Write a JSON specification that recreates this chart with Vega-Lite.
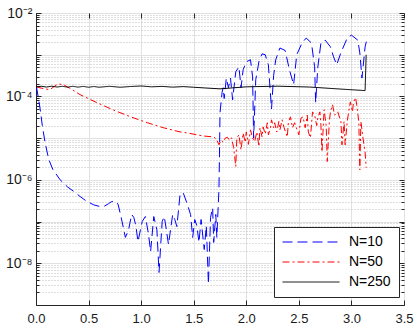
{
  "$schema": "https://vega.github.io/schema/vega-lite/v6.json",
  "width": 368,
  "height": 292,
  "autosize": {"type": "none"},
  "padding": {"left": 36, "top": 13, "right": 11, "bottom": 28},
  "config": {"view": {"stroke": "#262626", "strokeWidth": 1}, "font": "Liberation Sans"},
  "data": {"values": [
    {"s":"N=10","x":0.005,"y":1.7e-4},{"s":"N=10","x":0.02,"y":1.0e-4},{"s":"N=10","x":0.04,"y":4.9e-5},{"s":"N=10","x":0.06,"y":2.0e-5},{"s":"N=10","x":0.086,"y":7.94e-6},{"s":"N=10","x":0.12,"y":3.16e-6},{"s":"N=10","x":0.16,"y":1.78e-6},{"s":"N=10","x":0.23,"y":1.0e-6},{"s":"N=10","x":0.30,"y":6.76e-7},{"s":"N=10","x":0.355,"y":5.37e-7},{"s":"N=10","x":0.42,"y":3.98e-7},{"s":"N=10","x":0.48,"y":3.09e-7},{"s":"N=10","x":0.55,"y":2.51e-7},{"s":"N=10","x":0.61,"y":2.29e-7},{"s":"N=10","x":0.65,"y":2.34e-7},{"s":"N=10","x":0.69,"y":2.69e-7},{"s":"N=10","x":0.72,"y":3.02e-7},{"s":"N=10","x":0.75,"y":3.09e-7},{"s":"N=10","x":0.78,"y":2.63e-7},{"s":"N=10","x":0.81,"y":1.26e-7},{"s":"N=10","x":0.83,"y":7.24e-8},{"s":"N=10","x":0.85,"y":4.17e-8},{"s":"N=10","x":0.88,"y":6.31e-8},{"s":"N=10","x":0.91,"y":1.48e-7},{"s":"N=10","x":0.93,"y":1.26e-7},{"s":"N=10","x":0.95,"y":7.94e-8},{"s":"N=10","x":0.97,"y":3.31e-8},{"s":"N=10","x":1.01,"y":1.0e-7},{"s":"N=10","x":1.04,"y":1.32e-7},{"s":"N=10","x":1.07,"y":5.01e-8},{"s":"N=10","x":1.09,"y":1.91e-8},{"s":"N=10","x":1.12,"y":1.32e-7},{"s":"N=10","x":1.15,"y":6.31e-8},{"s":"N=10","x":1.17,"y":6.03e-9},{"s":"N=10","x":1.20,"y":1.0e-7},{"s":"N=10","x":1.22,"y":1.32e-7},{"s":"N=10","x":1.24,"y":6.31e-8},{"s":"N=10","x":1.26,"y":2.82e-8},{"s":"N=10","x":1.30,"y":1.48e-7},{"s":"N=10","x":1.32,"y":1.12e-7},{"s":"N=10","x":1.34,"y":7.59e-8},{"s":"N=10","x":1.37,"y":4.47e-7},{"s":"N=10","x":1.40,"y":4.9e-7},{"s":"N=10","x":1.44,"y":2.57e-7},{"s":"N=10","x":1.47,"y":1.48e-7},{"s":"N=10","x":1.49,"y":4.17e-8},{"s":"N=10","x":1.51,"y":1.12e-7},{"s":"N=10","x":1.53,"y":7.94e-8},{"s":"N=10","x":1.55,"y":3.16e-8},{"s":"N=10","x":1.57,"y":1.12e-7},{"s":"N=10","x":1.60,"y":2.14e-8},{"s":"N=10","x":1.62,"y":7.94e-8},{"s":"N=10","x":1.64,"y":3.16e-9},{"s":"N=10","x":1.66,"y":1.26e-7},{"s":"N=10","x":1.68,"y":2.14e-7},{"s":"N=10","x":1.69,"y":3.16e-8},{"s":"N=10","x":1.71,"y":1.48e-7},{"s":"N=10","x":1.72,"y":4.17e-8},{"s":"N=10","x":1.74,"y":5.89e-7},{"s":"N=10","x":1.745,"y":3.98e-6},{"s":"N=10","x":1.75,"y":4.07e-5},{"s":"N=10","x":1.77,"y":1.26e-4},{"s":"N=10","x":1.78,"y":1.62e-4},{"s":"N=10","x":1.79,"y":8.91e-5},{"s":"N=10","x":1.81,"y":2.75e-4},{"s":"N=10","x":1.83,"y":1.62e-4},{"s":"N=10","x":1.85,"y":2.75e-4},{"s":"N=10","x":1.87,"y":8.32e-5},{"s":"N=10","x":1.90,"y":3.89e-4},{"s":"N=10","x":1.93,"y":5.13e-4},{"s":"N=10","x":1.95,"y":1.62e-4},{"s":"N=10","x":1.97,"y":4.37e-4},{"s":"N=10","x":2.00,"y":6.76e-4},{"s":"N=10","x":2.04,"y":7.59e-4},{"s":"N=10","x":2.06,"y":2.95e-4},{"s":"N=10","x":2.07,"y":1.0e-5},{"s":"N=10","x":2.09,"y":2.51e-4},{"s":"N=10","x":2.12,"y":6.76e-4},{"s":"N=10","x":2.15,"y":1.05e-3},{"s":"N=10","x":2.18,"y":1.0e-3},{"s":"N=10","x":2.21,"y":5.75e-4},{"s":"N=10","x":2.24,"y":5.0e-5},{"s":"N=10","x":2.26,"y":3.16e-4},{"s":"N=10","x":2.28,"y":7.59e-4},{"s":"N=10","x":2.32,"y":1.45e-3},{"s":"N=10","x":2.37,"y":1.26e-3},{"s":"N=10","x":2.41,"y":4.37e-4},{"s":"N=10","x":2.45,"y":1.91e-4},{"s":"N=10","x":2.48,"y":1.0e-3},{"s":"N=10","x":2.53,"y":1.91e-3},{"s":"N=10","x":2.57,"y":2.51e-3},{"s":"N=10","x":2.62,"y":1.91e-3},{"s":"N=10","x":2.65,"y":5.13e-4},{"s":"N=10","x":2.66,"y":7.08e-5},{"s":"N=10","x":2.68,"y":5.01e-4},{"s":"N=10","x":2.71,"y":1.91e-3},{"s":"N=10","x":2.75,"y":2.24e-3},{"s":"N=10","x":2.80,"y":1.55e-3},{"s":"N=10","x":2.83,"y":8.91e-4},{"s":"N=10","x":2.86,"y":5.75e-4},{"s":"N=10","x":2.90,"y":1.12e-3},{"s":"N=10","x":2.96,"y":2.51e-3},{"s":"N=10","x":3.00,"y":2.95e-3},{"s":"N=10","x":3.06,"y":2.24e-3},{"s":"N=10","x":3.08,"y":1.10e-3},{"s":"N=10","x":3.10,"y":2.75e-4},{"s":"N=10","x":3.13,"y":1.55e-3},{"s":"N=10","x":3.15,"y":2.51e-3},
    {"s":"N=50","x":0.005,"y":1.7e-4},{"s":"N=50","x":0.05,"y":1.58e-4},{"s":"N=50","x":0.13,"y":1.45e-4},{"s":"N=50","x":0.21,"y":2.0e-4},{"s":"N=50","x":0.26,"y":1.91e-4},{"s":"N=50","x":0.32,"y":1.58e-4},{"s":"N=50","x":0.42,"y":1.10e-4},{"s":"N=50","x":0.58,"y":7.08e-5},{"s":"N=50","x":0.73,"y":4.79e-5},{"s":"N=50","x":0.90,"y":3.24e-5},{"s":"N=50","x":1.06,"y":2.34e-5},{"s":"N=50","x":1.21,"y":1.78e-5},{"s":"N=50","x":1.37,"y":1.41e-5},{"s":"N=50","x":1.45,"y":1.32e-5},{"s":"N=50","x":1.53,"y":1.20e-5},{"s":"N=50","x":1.60,"y":1.12e-5},{"s":"N=50","x":1.69,"y":1.07e-5},{"s":"N=50","x":1.72,"y":9.12e-6},{"s":"N=50","x":1.74,"y":6.92e-6},{"s":"N=50","x":1.76,"y":8.91e-6},{"s":"N=50","x":1.78,"y":7.94e-6},{"s":"N=50","x":1.80,"y":1.0e-5},{"s":"N=50","x":1.82,"y":1.05e-5},{"s":"N=50","x":1.84,"y":8.91e-6},{"s":"N=50","x":1.86,"y":1.02e-5},{"s":"N=50","x":1.88,"y":5.89e-6},{"s":"N=50","x":1.90,"y":2.09e-6},{"s":"N=50","x":1.91,"y":1.0e-5},{"s":"N=50","x":1.93,"y":1.20e-5},{"s":"N=50","x":1.95,"y":5.25e-6},{"s":"N=50","x":1.97,"y":1.32e-5},{"s":"N=50","x":1.99,"y":7.94e-6},{"s":"N=50","x":2.00,"y":1.41e-5},{"s":"N=50","x":2.02,"y":7.08e-6},{"s":"N=50","x":2.04,"y":1.58e-5},{"s":"N=50","x":2.06,"y":1.0e-5},{"s":"N=50","x":2.08,"y":8.32e-6},{"s":"N=50","x":2.10,"y":1.41e-5},{"s":"N=50","x":2.12,"y":6.31e-6},{"s":"N=50","x":2.13,"y":1.78e-5},{"s":"N=50","x":2.15,"y":1.07e-5},{"s":"N=50","x":2.16,"y":1.86e-5},{"s":"N=50","x":2.18,"y":1.26e-5},{"s":"N=50","x":2.20,"y":2.34e-5},{"s":"N=50","x":2.21,"y":1.20e-5},{"s":"N=50","x":2.23,"y":1.78e-5},{"s":"N=50","x":2.24,"y":2.75e-5},{"s":"N=50","x":2.26,"y":1.78e-5},{"s":"N=50","x":2.27,"y":2.34e-5},{"s":"N=50","x":2.29,"y":1.41e-5},{"s":"N=50","x":2.31,"y":2.51e-5},{"s":"N=50","x":2.32,"y":1.58e-5},{"s":"N=50","x":2.34,"y":2.75e-5},{"s":"N=50","x":2.36,"y":1.78e-5},{"s":"N=50","x":2.39,"y":1.07e-5},{"s":"N=50","x":2.40,"y":2.34e-5},{"s":"N=50","x":2.42,"y":3.24e-5},{"s":"N=50","x":2.44,"y":1.78e-5},{"s":"N=50","x":2.46,"y":2.34e-5},{"s":"N=50","x":2.48,"y":1.66e-5},{"s":"N=50","x":2.50,"y":1.20e-5},{"s":"N=50","x":2.52,"y":3.02e-5},{"s":"N=50","x":2.54,"y":3.24e-5},{"s":"N=50","x":2.56,"y":1.78e-5},{"s":"N=50","x":2.58,"y":3.55e-5},{"s":"N=50","x":2.59,"y":1.41e-5},{"s":"N=50","x":2.61,"y":1.02e-5},{"s":"N=50","x":2.63,"y":4.27e-5},{"s":"N=50","x":2.65,"y":3.55e-5},{"s":"N=50","x":2.67,"y":2.0e-5},{"s":"N=50","x":2.68,"y":3.02e-5},{"s":"N=50","x":2.70,"y":4.27e-5},{"s":"N=50","x":2.71,"y":2.0e-5},{"s":"N=50","x":2.72,"y":4.68e-6},{"s":"N=50","x":2.74,"y":4.79e-5},{"s":"N=50","x":2.76,"y":2.0e-5},{"s":"N=50","x":2.77,"y":2.75e-6},{"s":"N=50","x":2.79,"y":2.51e-5},{"s":"N=50","x":2.80,"y":4.27e-5},{"s":"N=50","x":2.82,"y":6.31e-5},{"s":"N=50","x":2.84,"y":3.55e-5},{"s":"N=50","x":2.87,"y":4.27e-5},{"s":"N=50","x":2.90,"y":2.51e-5},{"s":"N=50","x":2.91,"y":6.92e-6},{"s":"N=50","x":2.93,"y":2.51e-5},{"s":"N=50","x":2.94,"y":6.92e-6},{"s":"N=50","x":2.96,"y":2.51e-5},{"s":"N=50","x":2.98,"y":5.37e-5},{"s":"N=50","x":2.99,"y":7.41e-5},{"s":"N=50","x":3.01,"y":4.27e-5},{"s":"N=50","x":3.02,"y":7.41e-5},{"s":"N=50","x":3.04,"y":9.33e-5},{"s":"N=50","x":3.05,"y":6.31e-5},{"s":"N=50","x":3.07,"y":2.51e-5},{"s":"N=50","x":3.08,"y":1.74e-6},{"s":"N=50","x":3.09,"y":2.51e-5},{"s":"N=50","x":3.11,"y":1.0e-5},{"s":"N=50","x":3.13,"y":4.68e-6},{"s":"N=50","x":3.14,"y":1.95e-6},
    {"s":"N=250","x":0.0,"y":1.7e-4},{"s":"N=250","x":0.05,"y":1.75e-4},{"s":"N=250","x":0.1,"y":1.68e-4},{"s":"N=250","x":0.15,"y":1.76e-4},{"s":"N=250","x":0.2,"y":1.68e-4},{"s":"N=250","x":0.25,"y":1.75e-4},{"s":"N=250","x":0.3,"y":1.67e-4},{"s":"N=250","x":0.35,"y":1.75e-4},{"s":"N=250","x":0.4,"y":1.67e-4},{"s":"N=250","x":0.45,"y":1.74e-4},{"s":"N=250","x":0.5,"y":1.66e-4},{"s":"N=250","x":0.55,"y":1.73e-4},{"s":"N=250","x":0.6,"y":1.66e-4},{"s":"N=250","x":0.7,"y":1.75e-4},{"s":"N=250","x":0.8,"y":1.66e-4},{"s":"N=250","x":0.9,"y":1.73e-4},{"s":"N=250","x":1.0,"y":1.78e-4},{"s":"N=250","x":1.1,"y":1.70e-4},{"s":"N=250","x":1.2,"y":1.74e-4},{"s":"N=250","x":1.3,"y":1.67e-4},{"s":"N=250","x":1.4,"y":1.72e-4},{"s":"N=250","x":1.5,"y":1.66e-4},{"s":"N=250","x":1.6,"y":1.60e-4},{"s":"N=250","x":1.75,"y":1.52e-4},{"s":"N=250","x":2.0,"y":1.70e-4},{"s":"N=250","x":2.3,"y":1.76e-4},{"s":"N=250","x":2.6,"y":1.68e-4},{"s":"N=250","x":2.9,"y":1.50e-4},{"s":"N=250","x":3.13,"y":1.38e-4},{"s":"N=250","x":3.14,"y":1.0e-3}
  ]},
  "layer": [
    {
      "mark": {"type": "line", "strokeWidth": 1, "clip": true},
      "encoding": {
        "x": {"field": "x", "type": "quantitative", "scale": {"domain": [0, 3.5], "nice": false, "zero": false},
          "axis": {"title": null, "orient": "bottom", "values": [0, 0.5, 1, 1.5, 2, 2.5, 3, 3.5], "grid": true, "gridColor": "#e2e2e2", "gridWidth": 1,
            "tickSize": -5, "tickColor": "#262626", "domainColor": "#262626", "labelFontSize": 13, "labelColor": "#1a1a1a", "labelPadding": 12, "labelFlush": false, "labelOverlap": false, "labelBound": false}},
        "y": {"field": "y", "type": "quantitative", "scale": {"type": "log", "domain": [1e-9, 1e-2], "nice": false},
          "axis": {"title": null, "orient": "left",
            "values": [1e-9,2e-9,3e-9,4e-9,5e-9,6e-9,7e-9,8e-9,9e-9,1e-8,2e-8,3e-8,4e-8,5e-8,6e-8,7e-8,8e-8,9e-8,1e-7,2e-7,3e-7,4e-7,5e-7,6e-7,7e-7,8e-7,9e-7,1e-6,2e-6,3e-6,4e-6,5e-6,6e-6,7e-6,8e-6,9e-6,1e-5,2e-5,3e-5,4e-5,5e-5,6e-5,7e-5,8e-5,9e-5,1e-4,2e-4,3e-4,4e-4,5e-4,6e-4,7e-4,8e-4,9e-4,1e-3,2e-3,3e-3,4e-3,5e-3,6e-3,7e-3,8e-3,9e-3,1e-2],
            "grid": true,
            "gridColor": {"condition": {"test": "abs(log(datum.value)/LN10 - round(log(datum.value)/LN10)) < 0.01", "value": "#e2e2e2"}, "value": "#bdbdbd"},
            "gridDash": {"condition": {"test": "abs(log(datum.value)/LN10 - round(log(datum.value)/LN10)) < 0.01", "value": []}, "value": [1, 2]},
            "tickSize": {"condition": {"test": "abs(log(datum.value)/LN10 - round(log(datum.value)/LN10)) < 0.01", "value": -5}, "value": -3},
            "tickColor": "#262626", "domainColor": "#262626",
            "labelExpr": "abs(log(datum.value)/LN10 - round(log(datum.value)/LN10)) < 0.01 && round(log(datum.value)/LN10) % 2 == 0 ? '10⁻' + ['⁰','¹','²','³','⁴','⁵','⁶','⁷','⁸','⁹'][-round(log(datum.value)/LN10)] : ''",
            "labelFontSize": 14, "labelColor": "#1a1a1a", "labelPadding": 9, "labelOverlap": false, "labelBound": false, "labelFlush": false}},
        "color": {"field": "s", "type": "nominal", "sort": ["N=10", "N=50", "N=250"],
          "scale": {"domain": ["N=10", "N=50", "N=250"], "range": ["#0000ff", "#ff0000", "#000000"]},
          "legend": {"title": null, "orient": "none", "legendX": 238, "legendY": 214, "symbolType": "M-5.7,0H5.7", "symbolSize": 100, "symbolStrokeWidth": 1, "symbolOffset": 22,
            "labelFontSize": 14, "labelColor": "#000000", "labelFont": "Liberation Sans", "strokeColor": "#262626", "fillColor": "#ffffff", "padding": 8, "labelOffset": 31, "rowPadding": 6}},
        "strokeDash": {"field": "s", "type": "nominal", "sort": ["N=10", "N=50", "N=250"],
          "scale": {"domain": ["N=10", "N=50", "N=250"], "range": [[10, 5], [7, 3, 2, 3], [1, 0]]},
          "legend": {"title": null, "orient": "none", "legendX": 238, "legendY": 214, "symbolType": "M-5.7,0H5.7", "symbolSize": 100, "symbolStrokeWidth": 1, "symbolOffset": 22,
            "labelFontSize": 14, "labelColor": "#000000", "labelFont": "Liberation Sans", "strokeColor": "#262626", "fillColor": "#ffffff", "padding": 8, "labelOffset": 31, "rowPadding": 6}}
      }
    },
    {
      "mark": {"type": "line", "opacity": 0},
      "encoding": {
        "x": {"field": "x", "type": "quantitative",
          "axis": {"title": null, "orient": "top", "values": [0, 0.5, 1, 1.5, 2, 2.5, 3, 3.5], "grid": false, "labels": false, "domain": false, "tickSize": -5, "tickColor": "#262626"}},
        "y": {"field": "y", "type": "quantitative",
          "axis": {"title": null, "orient": "right", "grid": false, "labels": false, "domain": false, "tickColor": "#262626",
            "values": [1e-9,2e-9,3e-9,4e-9,5e-9,6e-9,7e-9,8e-9,9e-9,1e-8,2e-8,3e-8,4e-8,5e-8,6e-8,7e-8,8e-8,9e-8,1e-7,2e-7,3e-7,4e-7,5e-7,6e-7,7e-7,8e-7,9e-7,1e-6,2e-6,3e-6,4e-6,5e-6,6e-6,7e-6,8e-6,9e-6,1e-5,2e-5,3e-5,4e-5,5e-5,6e-5,7e-5,8e-5,9e-5,1e-4,2e-4,3e-4,4e-4,5e-4,6e-4,7e-4,8e-4,9e-4,1e-3,2e-3,3e-3,4e-3,5e-3,6e-3,7e-3,8e-3,9e-3,1e-2],
            "tickSize": {"condition": {"test": "abs(log(datum.value)/LN10 - round(log(datum.value)/LN10)) < 0.01", "value": -5}, "value": -3}}}
      }
    }
  ],
  "resolve": {"axis": {"x": "independent", "y": "independent"}}
}
